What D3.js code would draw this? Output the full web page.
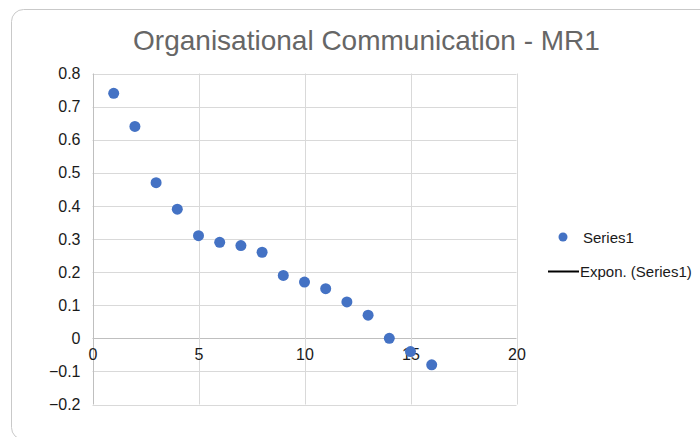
<!DOCTYPE html>
<html>
<head>
<meta charset="utf-8">
<script src="https://cdn.jsdelivr.net/npm/d3@7"></script>
<style>
  html, body { margin: 0; padding: 0; background: #fff; }
  svg { display: block; font-family: "Liberation Sans", Arial, sans-serif; }
</style>
</head>
<body>
<svg id="chart" width="700" height="437"></svg>
<script>
// Series values (x = item number, y = loading)
const xValues = [1, 2, 3, 4, 5, 6, 7, 8, 9, 10, 11, 12, 13, 14, 15, 16];
const yValues = [0.74, 0.64, 0.47, 0.39, 0.31, 0.29, 0.28, 0.26, 0.19, 0.17, 0.15, 0.11, 0.07, 0.0, -0.04, -0.08];
const xTicks = [0, 5, 10, 15, 20];
const yTicks = [-0.2, -0.1, 0, 0.1, 0.2, 0.3, 0.4, 0.5, 0.6, 0.7, 0.8];
const legendLabels = ["Series1", "Expon. (Series1)"];
const chartTitle = "Organisational Communication - MR1";

const svg = d3.select("#chart");

// chart area frame
svg.append("rect")
  .attr("x", 11.5).attr("y", 9.5)
  .attr("width", 720).attr("height", 430)
  .attr("rx", 12).attr("ry", 12)
  .attr("fill", "#fff")
  .attr("stroke", "#c9c9c9").attr("stroke-width", 1);

const x = d3.scaleLinear().domain([0, 20]).range([92.5, 516.5]);
const y = d3.scaleLinear().domain([-0.2, 0.8]).range([404.5, 73.5]);

// title
svg.append("text")
  .attr("x", 366.5).attr("y", 50)
  .attr("text-anchor", "middle")
  .attr("fill", "#666666")
  .attr("font-size", 28)
  .text(chartTitle);

// gridlines
const grid = svg.append("g");
grid.selectAll("line.h").data(yTicks).join("line")
  .attr("x1", x(0)).attr("x2", x(20))
  .attr("y1", d => Math.round(y(d)) + 0.5).attr("y2", d => Math.round(y(d)) + 0.5)
  .attr("stroke", d => d === 0 ? "#bfbfbf" : "#d9d9d9").attr("stroke-width", 1);
grid.selectAll("line.v").data(xTicks).join("line")
  .attr("y1", y(0.8)).attr("y2", y(-0.2))
  .attr("x1", d => Math.round(x(d)) + 0.5).attr("x2", d => Math.round(x(d)) + 0.5)
  .attr("stroke", d => d === 0 ? "#bfbfbf" : "#d9d9d9").attr("stroke-width", 1);

// y axis labels
const yAxis = d3.axisLeft(y).tickValues(yTicks).tickSize(0).tickPadding(12)
  .tickFormat(d => d3.format("")(Math.round(d * 10) / 10));
const gy = svg.append("g").attr("transform", `translate(${x(0)},0)`).call(yAxis);
gy.select(".domain").remove();
gy.selectAll("text").attr("font-size", 16).attr("fill", "#1a1a1a")
  .attr("font-family", "Liberation Sans, Arial, sans-serif");

// x axis labels sit on the zero line
const xAxis = d3.axisBottom(x).tickValues(xTicks).tickSize(0).tickPadding(10);
const gx = svg.append("g").attr("transform", `translate(0,${y(0)})`).call(xAxis);
gx.select(".domain").remove();
gx.selectAll("text").attr("font-size", 16).attr("fill", "#1a1a1a")
  .attr("font-family", "Liberation Sans, Arial, sans-serif");

// points
svg.append("g").selectAll("circle").data(xValues.map((d, i) => [d, yValues[i]])).join("circle")
  .attr("cx", d => x(d[0])).attr("cy", d => y(d[1]))
  .attr("r", 5.5)
  .attr("fill", "#4472c4");

// legend
const lg = svg.append("g");
lg.append("circle").attr("cx", 563).attr("cy", 237).attr("r", 4.5).attr("fill", "#4472c4");
lg.append("text").attr("x", 583).attr("y", 242.5).attr("font-size", 15).attr("fill", "#1a1a1a").text(legendLabels[0]);
lg.append("line").attr("x1", 548).attr("x2", 579).attr("y1", 271.5).attr("y2", 271.5)
  .attr("stroke", "#000").attr("stroke-width", 2);
lg.append("text").attr("x", 580).attr("y", 277).attr("font-size", 15).attr("fill", "#1a1a1a").text(legendLabels[1]);
</script>
</body>
</html>
